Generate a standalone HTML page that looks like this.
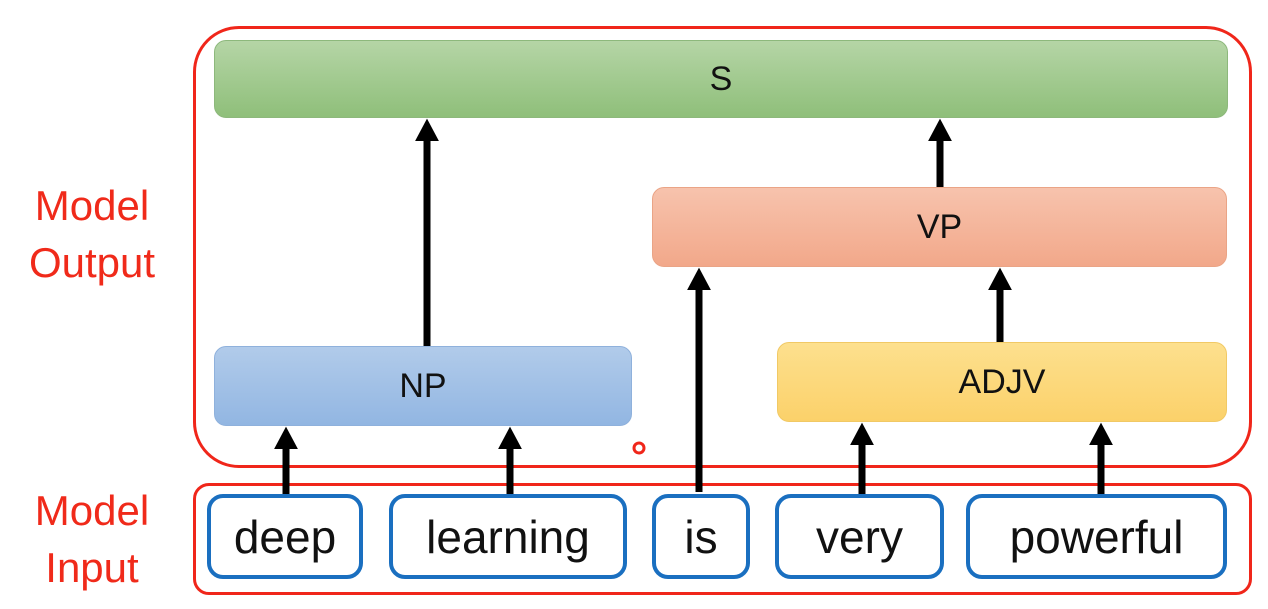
<!DOCTYPE html>
<html><head><style>
body{margin:0;width:1268px;height:609px;background:#fff;position:relative;overflow:hidden;font-family:"Liberation Sans",sans-serif}
.a{position:absolute;box-sizing:border-box}
.n{display:flex;align-items:center;justify-content:center;font-size:34px;color:#111;border-radius:12px}
.w{border:4px solid #1a6fc0;border-radius:16px;background:#fff;display:flex;align-items:center;justify-content:center;font-size:46px;color:#111}
.lbl{color:#f02a1a;font-size:42px;text-align:center;line-height:57px;width:180px;left:2px}
</style></head><body>
<div class="a" style="left:193px;top:26px;width:1059px;height:442px;border:3px solid #f0261a;border-radius:46px"></div>
<div class="a" style="left:193px;top:483px;width:1059px;height:112px;border:3px solid #f0261a;border-radius:16px"></div>
<div class="a n" style="left:214px;top:40px;width:1014px;height:78px;background:linear-gradient(#b5d5a6,#8fbf7a);border:1px solid #8db87c">S</div>
<div class="a n" style="left:652px;top:187px;width:575px;height:80px;background:linear-gradient(#f7c3ad,#f2a88a);border:1px solid #eaa486">VP</div>
<div class="a n" style="left:214px;top:346px;width:418px;height:80px;background:linear-gradient(#b1cbea,#92b6e2);border:1px solid #8fb1dc">NP</div>
<div class="a n" style="left:777px;top:342px;width:450px;height:80px;background:linear-gradient(#fde08e,#fbd16a);border:1px solid #f1c965">ADJV</div>
<div class="a lbl" style="top:177px">Model<br>Output</div>
<div class="a lbl" style="top:482px">Model<br>Input</div>
<svg class="a" style="left:0;top:0" width="1268" height="609">
<defs><marker id="h" markerWidth="4" markerHeight="4" refX="2" refY="2" orient="auto" markerUnits="strokeWidth"><path d="M0,0.3 L0,3.7 L3.2,2 Z" fill="#000"/></marker></defs>
<g stroke="#000" stroke-width="7" marker-end="url(#h)">
<line x1="427" y1="346" x2="427" y2="127"/>
<line x1="940" y1="187" x2="940" y2="127"/>
<line x1="699" y1="492" x2="699" y2="276"/>
<line x1="1000" y1="342" x2="1000" y2="276"/>
<line x1="286" y1="495" x2="286" y2="435"/>
<line x1="510" y1="495" x2="510" y2="435"/>
<line x1="862" y1="495" x2="862" y2="431"/>
<line x1="1101" y1="495" x2="1101" y2="431"/>
</g>
<circle cx="639" cy="448" r="5" fill="none" stroke="#f0261a" stroke-width="3"/>
</svg>
<div class="a w" style="left:207px;top:494px;width:156px;height:85px">deep</div>
<div class="a w" style="left:389px;top:494px;width:238px;height:85px">learning</div>
<div class="a w" style="left:652px;top:494px;width:98px;height:85px">is</div>
<div class="a w" style="left:775px;top:494px;width:169px;height:85px">very</div>
<div class="a w" style="left:966px;top:494px;width:261px;height:85px">powerful</div>
</body></html>
